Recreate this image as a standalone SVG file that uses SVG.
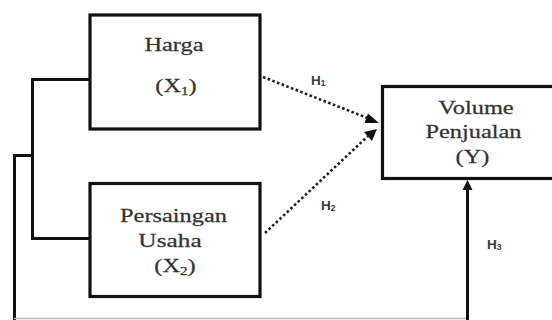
<svg xmlns="http://www.w3.org/2000/svg" width="552" height="320" viewBox="0 0 552 320">
<style>
.box{fill:#fff;stroke:#111;stroke-width:3.2}
.ln{fill:none;stroke:#111;stroke-width:3}
.dot{fill:none;stroke:#222;stroke-width:2.6;stroke-dasharray:2.6 2.4}
.t{font-family:"Liberation Serif","Times New Roman",serif;font-size:19.5px;fill:#333;stroke:#333;stroke-width:0.25;text-anchor:middle}
.s{font-size:12px}
.h{font-family:"Liberation Sans",Arial,sans-serif;font-size:13.5px;font-weight:bold;fill:#3a3a3a}
.hs{font-size:8.5px}
</style>
<rect width="552" height="320" fill="#fff"/>
<g id="connectors">
<polyline class="ln" points="90,79.5 32.5,79.5 32.5,238.5 90,238.5"/>
<polyline class="ln" points="32.5,155.5 14.5,155.5 14.5,322"/>
<line x1="14" y1="318.5" x2="468" y2="318.5" stroke="#bbb" stroke-width="1.5"/>
<line class="ln" x1="467.5" y1="322" x2="467.5" y2="188" />
<path d="M462.5,190 L467.5,180 L472.5,190 Z" fill="#111"/>
<line class="dot" x1="263" y1="77" x2="370" y2="119" />
<path d="M368,113.5 L379,123 L364.5,123 Z" fill="#111"/>
<line class="dot" x1="265" y1="233" x2="368" y2="136" />
<path d="M364,132 L377,129 L372,141 Z" fill="#111"/>
</g>
<g id="harga">
<rect class="box" x="90" y="15" width="170" height="114"/>
<text class="t" transform="translate(174,51) scale(1.25,1)">Harga</text>
<text class="t" transform="translate(176,92) scale(1.25,1)">(X<tspan class="s" dy="3">1</tspan><tspan dy="-3">)</tspan></text>
</g>
<g id="persaingan">
<rect class="box" x="90" y="183.5" width="170" height="113"/>
<text class="t" transform="translate(173.5,222) scale(1.25,1)">Persaingan</text>
<text class="t" transform="translate(170,247) scale(1.3,1)">Usaha</text>
<text class="t" transform="translate(175,272) scale(1.25,1)">(X<tspan class="s" dy="3">2</tspan><tspan dy="-3">)</tspan></text>
</g>
<g id="volume">
<rect class="box" x="382.5" y="86.5" width="180" height="92"/>
<text class="t" transform="translate(476,114) scale(1.25,1)">Volume</text>
<text class="t" transform="translate(473.5,138) scale(1.25,1)">Penjualan</text>
<text class="t" transform="translate(472.5,163) scale(1.25,1)">(Y)</text>
</g>
<g id="labels">
<text class="h" x="311" y="85">H<tspan class="hs" dy="1">1</tspan></text>
<text class="h" x="321" y="210">H<tspan class="hs" dy="1">2</tspan></text>
<text class="h" x="487" y="249">H<tspan class="hs" dy="1">3</tspan></text>
</g>
</svg>
